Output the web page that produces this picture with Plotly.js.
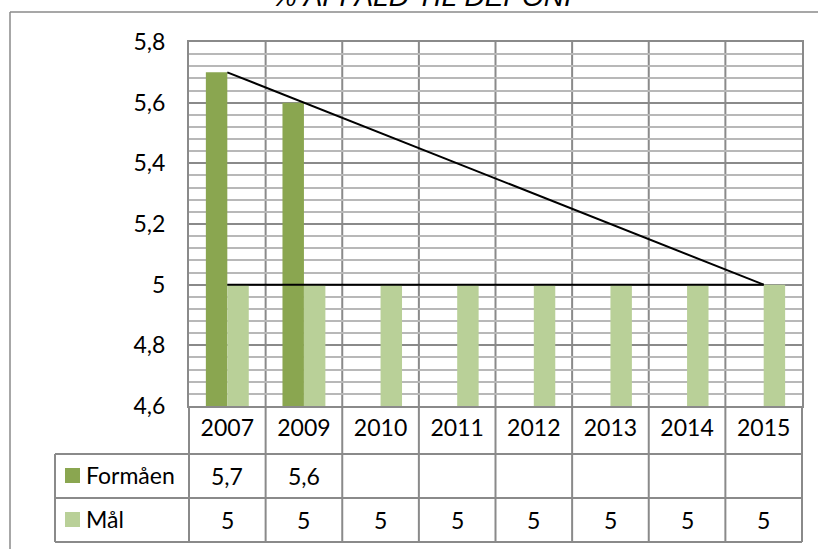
<!DOCTYPE html>
<html>
<head>
<meta charset="utf-8">
<script src="https://cdn.plot.ly/plotly-3.0.1.min.js"></script>
<style>html,body{margin:0;padding:0;background:#fff;}#chart{width:818px;height:549px;}</style>
</head>
<body>
<div id="chart"></div>
<script>
// ---- data ----
var years = ['2007', '2009', '2010', '2011', '2012', '2013', '2014', '2015'];
var formaen = [5.7, 5.6, null, null, null, null, null, null];
var maal = [5, 5, 5, 5, 5, 5, 5, 5];
var trend = [5.7, null, null, null, null, null, null, 5.0];
var seriesNames = ['Formåen', 'Mål'];
var titleText = '% AFFALD TIL DEPONI';

// ---- style ----
var W = 818, H = 549;
var M = {l: 189, r: 16, t: 42, b: 143};
var PW = W - M.l - M.r, PH = H - M.t - M.b;
var darkGreen = '#8aa650', lightGreen = '#b9d098';
var gridDark = '#8a8a8a', gridLight = '#b8b8b8';
var FONT = 'Lato, "Liberation Sans", sans-serif';
var FS = 23;
var headerH = 48;
var rowH = 44;
var legendLeft = 55;

function px2x(px) { return (px - M.l) / PW; }
function py2y(py) { return (H - M.b - py) / PH; }

var n = years.length;
var fmt = function (v) { return v === null ? '' : String(v).replace('.', ','); };

var traces = [
  {type: 'bar', name: seriesNames[0], x: years, y: formaen, marker: {color: darkGreen}, hoverinfo: 'skip'},
  {type: 'bar', name: seriesNames[1], x: years, y: maal, marker: {color: lightGreen}, hoverinfo: 'skip'},
  {type: 'scatter', mode: 'lines', name: 'Mål linje', x: years, y: maal, line: {color: '#000', width: 2}, hoverinfo: 'skip'},
  {type: 'scatter', mode: 'lines', name: 'Trend', x: years, y: trend, connectgaps: true, line: {color: '#000', width: 2}, hoverinfo: 'skip'}
];

var shapes = [];
var annotations = [];
var lineStyle = {color: gridDark, width: 2};
var headerBottom = H - M.b + headerH;
var tableBottom = headerBottom + 2 * rowH;

// vertical column lines (plot top through table)
for (var i = 1; i < n; i++) {
  shapes.push({type: 'line', xref: 'paper', yref: 'paper', x0: i / n, x1: i / n, y0: 1, y1: py2y(tableBottom), line: lineStyle, layer: 'below'});
}
shapes.push({type: 'line', xref: 'paper', yref: 'paper', x0: 1, x1: 1, y0: 0, y1: py2y(tableBottom), line: lineStyle});
shapes.push({type: 'line', xref: 'paper', yref: 'paper', x0: 0, x1: 0, y0: 0, y1: py2y(tableBottom), line: lineStyle});
shapes.push({type: 'line', xref: 'paper', yref: 'paper', x0: px2x(legendLeft), x1: px2x(legendLeft), y0: py2y(headerBottom), y1: py2y(tableBottom), line: lineStyle});
// horizontal table lines
for (var r = 0; r <= 2; r++) {
  var yy = py2y(headerBottom + r * rowH);
  shapes.push({type: 'line', xref: 'paper', yref: 'paper', x0: px2x(legendLeft), x1: 1, y0: yy, y1: yy, line: lineStyle});
}
// outer chart frame
shapes.push({type: 'line', xref: 'paper', yref: 'paper', x0: px2x(10), x1: px2x(W + 10), y0: py2y(12), y1: py2y(12), line: {color: gridDark, width: 1.5}});
shapes.push({type: 'line', xref: 'paper', yref: 'paper', x0: px2x(10), x1: px2x(10), y0: py2y(12), y1: py2y(H + 10), line: {color: gridDark, width: 1.5}});

// table rows
var rows = [formaen, maal];
var keyColors = [darkGreen, lightGreen];
for (var r2 = 0; r2 < rows.length; r2++) {
  var rowTop = headerBottom + r2 * rowH;
  var rowMid = rowTop + rowH / 2;
  shapes.push({type: 'rect', xref: 'paper', yref: 'paper', x0: px2x(65), x1: px2x(80), y0: py2y(rowMid - 8), y1: py2y(rowMid + 7), fillcolor: keyColors[r2], line: {width: 0}});
  annotations.push({xref: 'paper', yref: 'paper', x: px2x(84), y: py2y(rowMid - 1), xanchor: 'left', yanchor: 'middle', text: seriesNames[r2], showarrow: false, font: {family: FONT, size: FS, color: '#000'}});
  for (var c = 0; c < n; c++) {
    annotations.push({xref: 'paper', yref: 'paper', x: (c + 0.5) / n, y: py2y(rowMid), xanchor: 'center', yanchor: 'middle', text: fmt(rows[r2][c]), showarrow: false, font: {family: FONT, size: FS, color: '#000'}});
  }
}
// title (clipped at top like the reference)
annotations.push({xref: 'paper', yref: 'paper', x: px2x(422), y: py2y(8), xanchor: 'center', yanchor: 'bottom', yshift: -6, text: '<i>' + titleText + '</i>', showarrow: false, font: {family: '"Liberation Sans", Arial, sans-serif', size: 28, color: '#000'}});

var layout = {
  width: W, height: H,
  margin: M,
  paper_bgcolor: '#fff', plot_bgcolor: '#fff',
  showlegend: false,
  barmode: 'group', bargap: 0.44, bargroupgap: 0,
  separators: ', ',
  xaxis: {
    type: 'category', categoryorder: 'array', categoryarray: years,
    showgrid: false, zeroline: false,
    showline: true, mirror: true, linecolor: gridDark, linewidth: 2,
    ticks: '', ticklabelstandoff: 0,
    tickfont: {family: FONT, size: FS, color: '#000'},
    fixedrange: true
  },
  yaxis: {
    range: [4.6, 5.8], tick0: 4.6, dtick: 0.2,
    showgrid: true, gridcolor: gridDark, gridwidth: 2,
    minor: {dtick: 0.04, tick0: 4.6, showgrid: true, gridcolor: gridLight, gridwidth: 2},
    zeroline: false,
    showline: true, mirror: true, linecolor: gridDark, linewidth: 2,
    ticks: '', ticklabelstandoff: 17,
    tickfont: {family: FONT, size: FS, color: '#000'},
    fixedrange: true
  },
  shapes: shapes,
  annotations: annotations
};

Plotly.newPlot('chart', traces, layout, {displayModeBar: false, staticPlot: true});
</script>
</body>
</html>
